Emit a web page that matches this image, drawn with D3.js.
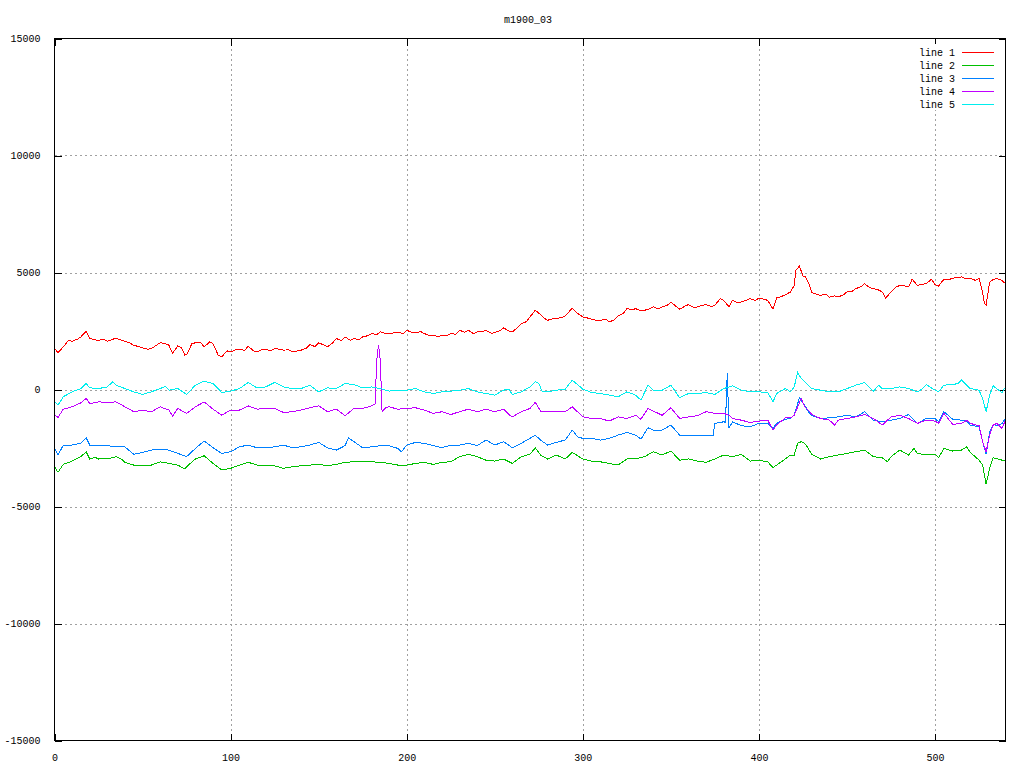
<!DOCTYPE html>
<html><head><meta charset="utf-8">
<script src="https://cdn.jsdelivr.net/npm/d3@7/dist/d3.min.js"></script>
<style>
html,body{margin:0;padding:0;background:#fff;}
text{font-family:"Liberation Mono","DejaVu Sans Mono",monospace;font-size:10px;fill:#000;}
</style></head><body>
<svg id="chart" width="1024" height="768"></svg>
<script>
const title = "m1900_03";
const seriesNames = ["line 1","line 2","line 3","line 4","line 5"];
const seriesColors = ["#ff0000","#00c000","#0080ff","#c000ff","#00eeee"];
const xTicks = [0,100,200,300,400,500];
const yTicks = [-15000,-10000,-5000,0,5000,10000,15000];

const line1 = [[0,1750],[2,1580],[5,1820],[8,2100],[10,2060],[13,2150],[15,2250],[18,2490],[20,2180],[23,2120],[25,2100],[28,2150],[30,2060],[35,2200],[38,2100],[40,2060],[43,1980],[45,1890],[48,1830],[50,1780],[53,1720],[55,1750],[58,1900],[60,2000],[63,1960],[65,1890],[67,1540],[70,1860],[72,1800],[74,1470],[75,1490],[78,1950],[80,2000],[83,2010],[85,1820],[88,2030],[90,1960],[93,1460],[95,1400],[98,1650],[100,1610],[103,1700],[105,1710],[108,1680],[110,1850],[113,1650],[115,1610],[118,1720],[120,1710],[123,1660],[125,1750],[128,1720],[130,1680],[133,1700],[135,1610],[140,1680],[143,1760],[145,1920],[148,1830],[150,2000],[153,1900],[155,1820],[158,2000],[160,2180],[163,2090],[165,2250],[168,2100],[170,2180],[173,2130],[175,2250],[178,2300],[180,2390],[183,2350],[185,2460],[188,2400],[190,2390],[193,2420],[195,2460],[198,2380],[200,2530],[203,2440],[205,2430],[208,2470],[210,2390],[213,2300],[215,2320],[218,2250],[220,2320],[223,2300],[225,2390],[228,2360],[230,2530],[233,2450],[235,2530],[238,2380],[240,2460],[243,2480],[245,2530],[248,2400],[250,2430],[253,2520],[255,2630],[258,2500],[260,2460],[263,2650],[265,2815],[268,2900],[270,3100],[273,3385],[276,3200],[278,3050],[280,2960],[283,3020],[285,3030],[288,3080],[290,3140],[294,3480],[297,3250],[300,3100],[303,3050],[305,3000],[308,2950],[310,2960],[313,3000],[315,2890],[318,2980],[320,3140],[323,3250],[325,3460],[328,3400],[330,3460],[333,3350],[335,3385],[338,3450],[340,3530],[343,3450],[345,3530],[348,3600],[350,3740],[353,3550],[355,3430],[358,3560],[360,3630],[363,3500],[365,3530],[368,3600],[370,3630],[373,3550],[375,3600],[378,3880],[380,3810],[383,3530],[385,3810],[388,3700],[390,3740],[393,3820],[395,3880],[398,3800],[400,3910],[403,3850],[405,3810],[408,3430],[410,3910],[413,3980],[415,4050],[418,4170],[420,4450],[421,5090],[423,5280],[425,4850],[426,4850],[428,4590],[430,4140],[433,4060],[435,4020],[438,4080],[440,3950],[443,4000],[445,3950],[448,4050],[450,4170],[453,4200],[455,4310],[458,4400],[460,4520],[463,4350],[465,4310],[468,4250],[470,4170],[472,3910],[475,4170],[478,4380],[480,4450],[483,4420],[485,4380],[487,4710],[490,4450],[493,4500],[495,4520],[498,4710],[500,4480],[502,4420],[505,4710],[508,4700],[510,4760],[513,4780],[515,4810],[518,4720],[520,4760],[523,4660],[525,4760],[527,4170],[528,3670],[529,3600],[531,4590],[533,4700],[535,4740],[538,4660],[540,4520]];

const line2 = [[0,-3300],[2,-3540],[5,-3200],[10,-3060],[15,-2870],[18,-2660],[20,-2970],[23,-2900],[25,-2970],[28,-2930],[30,-2970],[35,-2870],[38,-2980],[40,-3110],[45,-3230],[50,-3260],[55,-3230],[60,-3090],[65,-3160],[70,-3230],[74,-3400],[75,-3300],[80,-2970],[85,-2830],[90,-3160],[95,-3440],[100,-3370],[105,-3230],[110,-3110],[115,-3230],[120,-3230],[125,-3260],[130,-3370],[135,-3300],[140,-3260],[145,-3230],[150,-3200],[155,-3260],[160,-3200],[165,-3110],[170,-3090],[175,-3090],[180,-3090],[185,-3110],[190,-3160],[195,-3230],[200,-3230],[205,-3160],[210,-3110],[215,-3200],[220,-3110],[225,-3090],[230,-2870],[235,-2770],[240,-2870],[245,-3020],[250,-3060],[255,-2970],[260,-3160],[265,-2870],[270,-2770],[273,-2490],[276,-2800],[280,-2970],[285,-2800],[290,-2970],[294,-2690],[300,-2970],[305,-3060],[310,-3090],[315,-3160],[320,-3230],[325,-2970],[330,-2970],[335,-2870],[340,-2660],[345,-2800],[350,-2630],[355,-3020],[360,-2970],[365,-3060],[370,-3110],[375,-2970],[380,-2800],[385,-2870],[390,-2770],[395,-3060],[400,-3020],[405,-3090],[408,-3340],[410,-3230],[415,-2970],[418,-2800],[420,-2800],[422,-2300],[424,-2230],[426,-2300],[428,-2520],[430,-2770],[435,-2970],[440,-2870],[445,-2800],[450,-2730],[455,-2660],[460,-2590],[465,-2870],[470,-2920],[473,-3090],[475,-2870],[480,-2590],[485,-2800],[488,-2520],[490,-2730],[495,-2800],[500,-2770],[502,-2920],[505,-2520],[510,-2630],[515,-2590],[518,-2450],[520,-2690],[525,-3020],[527,-3230],[529,-4050],[531,-3370],[533,-2920],[535,-2950],[538,-3020],[540,-3060]];

const line3 = [[0,-2490],[2,-2800],[5,-2375],[10,-2375],[15,-2300],[18,-2060],[20,-2375],[25,-2375],[30,-2400],[35,-2450],[40,-2450],[45,-2770],[50,-2690],[55,-2590],[60,-2550],[65,-2590],[70,-2730],[75,-2870],[80,-2520],[85,-2200],[90,-2490],[95,-2730],[100,-2660],[105,-2450],[110,-2375],[115,-2490],[120,-2490],[125,-2450],[130,-2375],[135,-2490],[140,-2450],[145,-2375],[150,-2260],[155,-2490],[160,-2590],[165,-2400],[167,-2060],[170,-2230],[175,-2490],[180,-2450],[185,-2400],[190,-2400],[195,-2520],[197,-2660],[200,-2375],[205,-2260],[210,-2300],[215,-2400],[220,-2490],[225,-2375],[230,-2375],[235,-2300],[240,-2400],[245,-2160],[250,-2375],[255,-2230],[260,-2490],[265,-2300],[270,-2090],[273,-1950],[276,-2160],[280,-2375],[285,-2260],[290,-2160],[294,-1735],[297,-2020],[300,-2090],[305,-2090],[310,-2160],[315,-2090],[320,-1950],[325,-1830],[330,-1950],[333,-2120],[337,-1635],[340,-1735],[345,-1735],[350,-1520],[355,-1950],[360,-1950],[365,-1950],[370,-1950],[374,-1950],[375,-1450],[380,-1380],[381,-1400],[382,700],[383,-1650],[385,-1380],[390,-1550],[395,-1590],[400,-1450],[405,-1450],[408,-1660],[410,-1450],[415,-1270],[418,-1240],[420,-1070],[422,-600],[423,-355],[426,-670],[428,-950],[430,-1120],[435,-1240],[440,-1210],[445,-1170],[450,-1100],[455,-1170],[460,-950],[465,-1310],[470,-1380],[475,-1310],[480,-1240],[485,-1070],[490,-1450],[495,-1240],[500,-1240],[502,-1380],[505,-950],[510,-1270],[515,-1310],[518,-1350],[520,-1520],[525,-1590],[527,-2230],[529,-2770],[531,-1800],[533,-1490],[535,-1550],[538,-1450],[540,-1240]];

const line4 = [[0,-1070],[2,-1190],[5,-840],[10,-740],[15,-570],[18,-380],[20,-600],[25,-530],[30,-550],[35,-530],[40,-740],[45,-950],[50,-880],[55,-950],[60,-740],[65,-880],[67,-1140],[70,-810],[75,-1020],[80,-740],[85,-530],[90,-840],[95,-1100],[100,-880],[105,-880],[110,-700],[115,-840],[120,-810],[125,-810],[130,-980],[135,-950],[140,-880],[145,-780],[150,-700],[155,-950],[160,-840],[165,-1120],[170,-810],[175,-810],[180,-700],[182,-620],[183,1250],[184,1920],[185,1250],[186,-950],[188,-780],[190,-740],[195,-840],[200,-810],[205,-780],[210,-880],[215,-1020],[220,-950],[225,-1070],[230,-950],[235,-840],[240,-950],[245,-840],[250,-950],[255,-840],[258,-1070],[260,-1170],[265,-950],[270,-810],[273,-550],[276,-920],[280,-950],[285,-950],[290,-950],[294,-740],[300,-1170],[305,-1240],[310,-1240],[315,-1350],[320,-1170],[325,-1240],[330,-1100],[333,-1270],[337,-810],[340,-920],[345,-1100],[350,-780],[355,-1240],[360,-1170],[365,-1120],[370,-950],[375,-1020],[380,-1020],[383,-1100],[385,-1240],[390,-1310],[395,-1410],[400,-1350],[405,-1310],[408,-1735],[410,-1520],[415,-1210],[418,-1210],[420,-1100],[422,-740],[424,-380],[426,-740],[428,-880],[430,-1070],[435,-1240],[440,-1310],[443,-1520],[445,-1310],[450,-1240],[455,-1170],[460,-1070],[465,-1240],[470,-1520],[475,-1170],[480,-1100],[485,-1240],[490,-1450],[495,-1310],[500,-1350],[502,-1450],[505,-1020],[510,-1490],[515,-1450],[518,-1310],[520,-1450],[525,-1550],[527,-2230],[529,-2660],[531,-1950],[533,-1520],[535,-1450],[538,-1660],[540,-1310]];

const line5 = [[0,-500],[2,-670],[5,-310],[10,-100],[15,40],[18,256],[20,70],[25,40],[30,110],[33,330],[35,185],[40,40],[45,-100],[50,-210],[55,-100],[60,40],[63,140],[65,-30],[70,40],[75,-210],[80,185],[85,355],[90,256],[95,-130],[100,-70],[105,40],[110,300],[115,70],[120,110],[125,300],[130,110],[135,40],[140,40],[145,185],[150,-100],[155,70],[160,40],[165,256],[170,210],[175,70],[180,110],[185,40],[190,-70],[195,-30],[200,-30],[205,40],[210,-100],[215,-170],[220,-100],[225,-70],[230,-30],[235,40],[240,-100],[245,-170],[250,-240],[255,-30],[258,15],[260,-210],[265,-100],[270,110],[273,330],[275,256],[277,-100],[280,-100],[285,-30],[290,15],[294,400],[300,15],[305,-130],[310,-170],[315,-240],[320,-310],[325,-100],[330,-240],[333,-455],[337,185],[340,-30],[345,-30],[350,185],[355,-355],[360,-170],[365,-170],[370,-130],[375,-210],[380,40],[385,155],[390,-30],[395,-100],[400,-100],[405,-130],[408,-530],[410,-170],[415,40],[418,-100],[420,110],[422,725],[424,470],[426,330],[428,185],[430,40],[435,-30],[440,-100],[445,-100],[450,40],[455,185],[460,300],[465,-70],[468,185],[470,40],[475,40],[480,110],[485,40],[490,-100],[493,40],[495,210],[500,-30],[502,-100],[505,185],[510,210],[513,256],[515,400],[518,185],[520,40],[525,-30],[527,-385],[529,-950],[531,-240],[533,155],[535,40],[538,-130],[540,110]];

const allSeries = [line1,line2,line3,line4,line5];

const svg = d3.select("#chart");
const L = 54.5, R = 1005.5, T = 38.5, B = 740.5;
const x = d3.scaleLinear().domain([0,540]).range([L,R]);
const y = d3.scaleLinear().domain([-15000,15000]).range([B,T]);

// grid
const grid = svg.append("g").attr("shape-rendering","crispEdges");
xTicks.forEach(t => {
  if (t === 0) return;
  grid.append("line").attr("x1",Math.round(x(t))+0.5).attr("x2",Math.round(x(t))+0.5)
    .attr("y1",T).attr("y2",B).attr("stroke","#a0a0a0").attr("stroke-dasharray","2,3");
});
yTicks.forEach(t => {
  if (t === 15000 || t === -15000) return;
  grid.append("line").attr("x1",L).attr("x2",R)
    .attr("y1",Math.round(y(t))+0.5).attr("y2",Math.round(y(t))+0.5).attr("stroke","#a0a0a0").attr("stroke-dasharray","2,3");
});

// axes with gnuplot-like inward ticks
const axB = d3.axisBottom(x).tickValues(xTicks).tickSize(-7).tickPadding(13).tickFormat(d3.format("d"));
const axT = d3.axisTop(x).tickValues(xTicks).tickSize(-7).tickFormat("");
const axL = d3.axisLeft(y).tickValues(yTicks).tickSize(-7).tickPadding(14).tickFormat(d => d < 0 ? "-" + Math.abs(d) : String(d));
const axR = d3.axisRight(y).tickValues(yTicks).tickSize(-7).tickFormat("");
function style(g){ g.select(".domain").remove(); g.selectAll("line").attr("stroke","#000").attr("shape-rendering","crispEdges"); g.selectAll("text").attr("font-family",null).attr("font-size",null); }
svg.append("g").attr("transform",`translate(0,${B})`).call(axB).call(style);
svg.append("g").attr("transform",`translate(0,${T})`).call(axT).call(style);
svg.append("g").attr("transform",`translate(${L},0)`).call(axL).call(style);
svg.append("g").attr("transform",`translate(${R},0)`).call(axR).call(style);

// lines
const lineGen = d3.line().x(d => x(d[0])).y(d => y(d[1]));
const plot = svg.append("g");
allSeries.forEach((s,i) => {
  plot.append("path").datum(s).attr("d",lineGen).attr("fill","none")
    .attr("stroke",seriesColors[i]).attr("stroke-width",1).attr("shape-rendering","crispEdges");
});

// legend
const leg = svg.append("g");
leg.append("rect").attr("x",915).attr("y",44).attr("width",85).attr("height",66).attr("fill","#fff");
seriesNames.forEach((n,i) => {
  const yy = 52 + i*13;
  leg.append("text").attr("x",955).attr("y",yy).attr("text-anchor","end").attr("dy","0.35em").text(n);
  leg.append("line").attr("x1",962).attr("x2",994).attr("y1",yy+0.5).attr("y2",yy+0.5)
    .attr("stroke",seriesColors[i]).attr("stroke-width",1).attr("shape-rendering","crispEdges");
});

// frame
svg.append("rect").attr("x",L).attr("y",T).attr("width",R-L).attr("height",B-T)
  .attr("fill","none").attr("stroke","#000").attr("shape-rendering","crispEdges");

// title
svg.append("text").attr("x",528).attr("y",19).attr("text-anchor","middle").attr("dy","0.35em").text(title);
</script>
</body></html>
